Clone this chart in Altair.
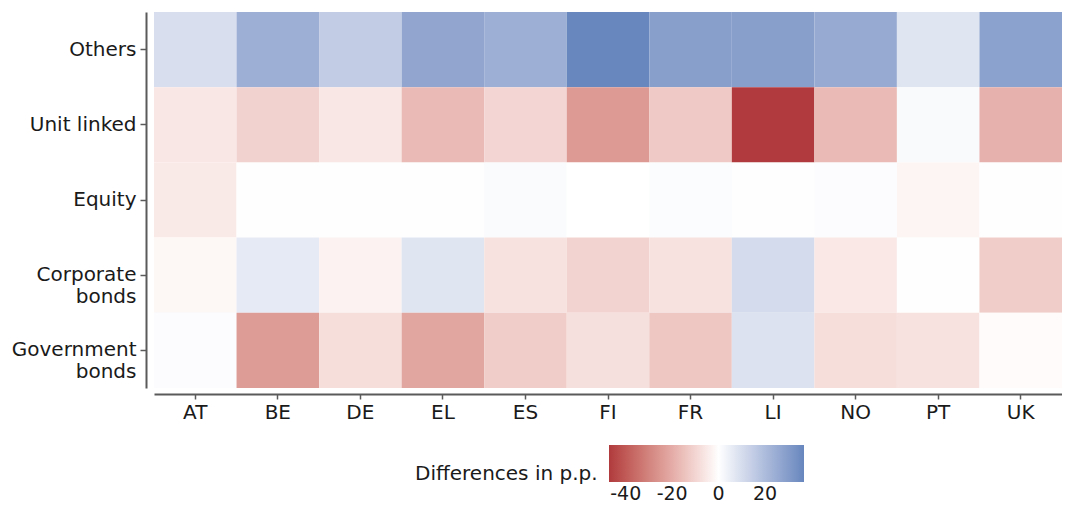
import altair as alt
import pandas as pd

countries = ["AT", "BE", "DE", "EL", "ES", "FI", "FR", "LI", "NO", "PT", "UK"]
categories = ["Others", "Unit linked", "Equity", "Corporate bonds", "Government bonds"]

others = [9.6, 24.0, 15.0, 27.0, 24.0, 36.8, 29.0, 29.0, 25.5, 7.5, 28.0]
unit_linked = [-5.7, -10.7, -5.7, -16.4, -9.8, -24.6, -13.0, -47.2, -16.4, 1.5, -18.9]
equity = [-5.0, 0.3, 0.3, 0.3, 1.2, 0.0, 1.0, 0.3, 0.8, -2.5, 0.2]
corporate_bonds = [-2.0, 6.0, -3.0, 7.5, -7.0, -10.5, -7.0, 10.5, -5.5, -0.2, -12.0]
government_bonds = [0.8, -24.0, -8.0, -21.5, -12.0, -7.5, -13.5, 8.5, -8.0, -7.0, -1.0]

series = [others, unit_linked, equity, corporate_bonds, government_bonds]
rows = []
for cat, vals in zip(categories, series):
    for c, v in zip(countries, vals):
        rows.append({"country": c, "category": cat, "value": v})
df = pd.DataFrame(rows)

FONT = "DejaVu Sans"
FS = 20
label_expr = ("datum.label == 'Corporate bonds' ? ['Corporate', 'bonds'] : "
              "datum.label == 'Government bonds' ? ['Government', 'bonds'] : datum.label")

chart = alt.Chart(df).mark_rect(stroke=None).encode(
    x=alt.X("country:N", sort=countries, title=None,
            scale=alt.Scale(paddingInner=0, paddingOuter=0),
            axis=alt.Axis(labelAngle=0, offset=6, domainColor="#5a5a5a", domainWidth=2,
                          tickColor="#5a5a5a", tickWidth=1.5, tickSize=5,
                          labelFontSize=FS, labelFont=FONT, labelColor="#1a1a1a",
                          labelPadding=3)),
    y=alt.Y("category:N", sort=categories, title=None,
            scale=alt.Scale(paddingInner=0, paddingOuter=0),
            axis=alt.Axis(offset=8, domainColor="#5a5a5a", domainWidth=2,
                          tickColor="#5a5a5a", tickWidth=1.5, tickSize=6,
                          labelFontSize=FS, labelFont=FONT, labelColor="#1a1a1a",
                          labelPadding=4, labelExpr=label_expr, labelLineHeight=22)),
    color=alt.Color("value:Q",
                    scale=alt.Scale(domainMid=0, range=["#B03A3D", "#FFFFFF", "#6787BE"],
                                    interpolate="lab"),
                    legend=alt.Legend(title="Differences in p.p.", orient="none",
                                      direction="horizontal", titleOrient="left",
                                      titleAnchor="middle", titleBaseline="top",
                                      titleFont=FONT, titleFontSize=FS, titleFontWeight="normal",
                                      titleColor="#1a1a1a", titlePadding=11, titleLimit=400,
                                      labelFont=FONT, labelFontSize=19, labelColor="#1a1a1a",
                                      labelOffset=3,
                                      values=[-40, -20, 0, 20], labelExpr="'' + datum.value",
                                      gradientLength=195, gradientThickness=37,
                                      gradientStrokeWidth=0,
                                      legendX=261, legendY=433)),
).properties(
    width=908, height=376,
    autosize=alt.AutoSizeParams(type="none"),
    padding={"left": 146, "top": 4, "right": 0, "bottom": 121},
).configure_view(stroke=None).configure_axis(grid=False)

chart.save("out.html", embed_options={"renderer": "svg", "actions": False})
